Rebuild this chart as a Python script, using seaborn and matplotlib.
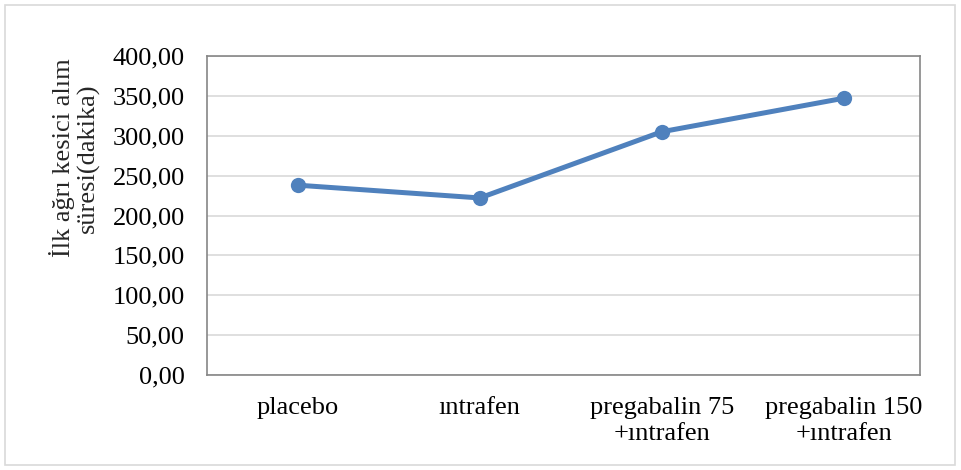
import matplotlib
matplotlib.use("Agg")
import matplotlib.pyplot as plt
import seaborn as sns
import pandas as pd
from matplotlib.patches import Rectangle
from matplotlib.ticker import FuncFormatter

# Dados
gruplar = ["placebo", "ıntrafen", "pregabalin 75\n+ıntrafen", "pregabalin 150\n+ıntrafen"]
sure = [238.0, 222.0, 305.0, 347.0]
y_ticks = [0, 50, 100, 150, 200, 250, 300, 350, 400]

df = pd.DataFrame({"grup": gruplar, "sure": sure})

sns.set_theme(style="white")
plt.rcParams["font.family"] = ["Liberation Serif", "DejaVu Serif"]

fig = plt.figure(figsize=(9.61, 4.70), dpi=100)
ax = fig.add_axes([207 / 961, 1 - 375 / 470, (920 - 207) / 961, (375 - 56) / 470])

# Moldura externa do gráfico
fig.patches.append(Rectangle((5 / 961, 5 / 470), 950 / 961, 460 / 470,
                             transform=fig.transFigure, fill=False,
                             edgecolor="#d9d9d9", linewidth=1.2))

sns.lineplot(data=df, x="grup", y="sure", ax=ax, sort=False,
             color="#4f81bd", linewidth=3.6, marker="o", markersize=11,
             markeredgewidth=0)

ax.set_ylim(0, 400)
ax.set_xlim(-0.5, 3.42)
ax.set_yticks(y_ticks)
ax.yaxis.set_major_formatter(FuncFormatter(lambda v, p: f"{v:.2f}".replace(".", ",")))
ax.grid(axis="y", color="#d9d9d9", linewidth=1.2)
ax.set_axisbelow(True)
for s in ax.spines.values():
    s.set_color("#868686")
    s.set_linewidth(1.2)

ax.tick_params(axis="both", length=0, labelsize=19, colors="black")
ax.tick_params(axis="y", pad=16)
ax.tick_params(axis="x", pad=16)
for t in ax.get_xticklabels():
    t.set_linespacing(1.2)
ax.set_xlabel("")
ax.set_ylabel("")

# Título do eixo Y (posicionado como no Excel, acima do centro)
fig.text(74 / 961, 1 - 158 / 470, "İlk ağrı kesici alım\nsüresi(dakika)",
         rotation=90, ha="center", va="center", fontsize=19,
         linespacing=1.1, multialignment="center")

fig.savefig("out.png", dpi=100)
